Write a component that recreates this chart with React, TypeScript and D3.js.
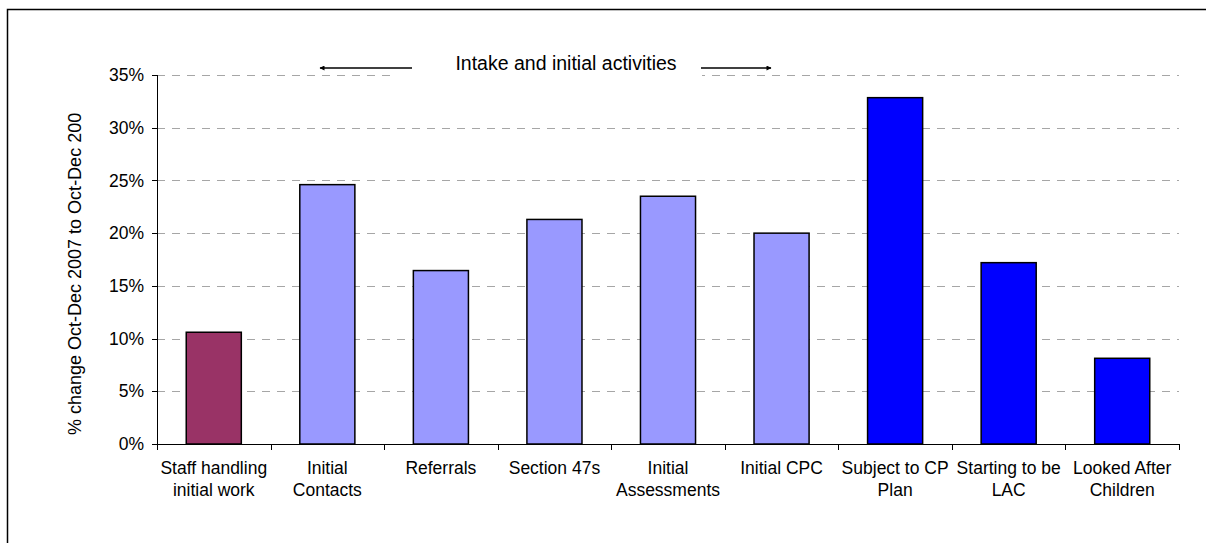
import React from "react";
import * as d3 from "d3";

const categories: string[][] = [
  ["Staff handling", "initial work"],
  ["Initial", "Contacts"],
  ["Referrals"],
  ["Section 47s"],
  ["Initial", "Assessments"],
  ["Initial CPC"],
  ["Subject to CP", "Plan"],
  ["Starting to be", "LAC"],
  ["Looked After", "Children"],
];
const values: number[] = [10.6, 24.6, 16.45, 21.3, 23.5, 20.0, 32.85, 17.2, 8.13];
const groups: string[] = ["staff", "intake", "intake", "intake", "intake", "intake", "cp", "cp", "cp"];
const yTicks: number[] = [0, 5, 10, 15, 20, 25, 30, 35];
const yLabel = "% change Oct-Dec 2007 to Oct-Dec 2008";
const title = "Intake and initial activities";

const colors: Record<string, string> = { staff: "#993366", intake: "#9999FF", cp: "#0000FF" };

export default function App() {
  const W = 1206, H = 543;
  const left = 157, right = 1179, top = 75, bottom = 444;
  const x = d3.scaleBand<number>().domain(d3.range(values.length)).range([left, right]).paddingInner(0.515).paddingOuter(0.2575);
  const xb = d3.scaleBand<number>().domain(d3.range(values.length)).range([left, right]);
  const y = d3.scaleLinear().domain([0, 35]).range([bottom, top]);
  const font = "'Liberation Sans', Arial, sans-serif";
  return (
    <svg width={W} height={H} style={{ position: "absolute", left: 0, top: 0, background: "#fff" }} fontFamily={font}>
      <defs>
        <clipPath id="ylc">
          <rect x={0} y={112} width={150} height={400} />
        </clipPath>
        <marker id="ah" viewBox="0 0 10 10" refX="9" refY="5" markerWidth="7" markerHeight="5" orient="auto-start-reverse" markerUnits="userSpaceOnUse">
          <path d="M0,0 L10,5 L0,10 z" fill="#000" />
        </marker>
      </defs>
      <rect x={0} y={0} width={W} height={H} fill="#fff" />
      <rect x={7.5} y={9.5} width={1400} height={700} fill="none" stroke="#000" strokeWidth={1.5} />
      {yTicks.filter((t) => t > 0).map((t) => (
        <line key={t} x1={left} x2={right} y1={Math.round(y(t)) + 0.5} y2={Math.round(y(t)) + 0.5} stroke="#a6a6a6" strokeWidth={1} strokeDasharray="8,7" />
      ))}
      <rect x={390} y={52} width={312} height={28} fill="#fff" />
      <text x={566} y={70} fontSize={19.5} textAnchor="middle" fill="#000">{title}</text>
      <line x1={412} y1={68} x2={320} y2={68} stroke="#000" strokeWidth={1.5} markerEnd="url(#ah)" />
      <line x1={701} y1={68} x2={771} y2={68} stroke="#000" strokeWidth={1.5} markerEnd="url(#ah)" />
      {values.map((v, i) => (
        <rect key={i} x={x(i)} y={y(v)} width={x.bandwidth()} height={bottom - y(v)} fill={colors[groups[i]]} stroke="#000" strokeWidth={1.5} />
      ))}
      <line x1={left + 0.5} x2={left + 0.5} y1={top} y2={bottom} stroke="#000" strokeWidth={1} />
      <line x1={left} x2={right} y1={bottom + 0.5} y2={bottom + 0.5} stroke="#000" strokeWidth={1} />
      {yTicks.map((t) => (
        <g key={t}>
          <line x1={152} x2={left} y1={Math.round(y(t)) + 0.5} y2={Math.round(y(t)) + 0.5} stroke="#000" />
          <text x={144} y={y(t)} dy="0.35em" fontSize={17.5} textAnchor="end" fill="#000">{t}%</text>
        </g>
      ))}
      {d3.range(values.length + 1).map((i) => {
        const xx = i < values.length ? (xb(i) as number) : right;
        return <line key={i} x1={Math.round(xx) + 0.5} x2={Math.round(xx) + 0.5} y1={bottom} y2={bottom + 6} stroke="#000" />;
      })}
      {categories.map((lines, i) => (
        <text key={i} x={(xb(i) as number) + xb.bandwidth() / 2} y={474} fontSize={17.5} textAnchor="middle" fill="#000">
          {lines.map((l, j) => (
            <tspan key={j} x={(xb(i) as number) + xb.bandwidth() / 2} dy={j === 0 ? 0 : 21.5}>{l}</tspan>
          ))}
        </text>
      ))}
      <g clipPath="url(#ylc)">
        <text transform={`translate(81,435) rotate(-90)`} fontSize={18} textAnchor="start" fill="#000">{yLabel}</text>
      </g>
    </svg>
  );
}
